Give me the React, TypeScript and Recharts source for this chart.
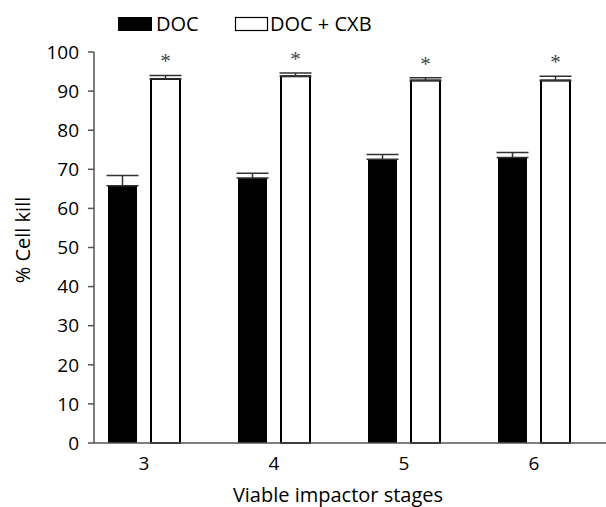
import { BarChart, Bar, XAxis, YAxis, ErrorBar, LabelList, Label } from "recharts"

// values
const stages = ["3", "4", "5", "6"]
const doc = [65.8, 67.8, 72.6, 73.0]
const docErr = [2.6, 1.2, 1.2, 1.3]
const docCxb = [93.1, 93.8, 92.7, 92.7]
const docCxbErr = [0.9, 0.8, 0.7, 1.1]
const yTicks = [0, 10, 20, 30, 40, 50, 60, 70, 80, 90, 100]

const data = stages.map((s, i) => ({
  stage: s,
  doc: doc[i],
  docErr: [0, docErr[i]],
  docCxb: docCxb[i],
  docCxbErr: [0, docCxbErr[i]],
}))

const FONT = "'Open Sans', 'Noto Sans', sans-serif"

// asterisk above the error bar of the DOC + CXB series
const Star = (props: any) => {
  const { x, y, width, height, value, index } = props
  const errTop = y - (docCxbErr[index] * height) / value
  return (
    <text
      x={x + width / 2}
      y={errTop - 7}
      textAnchor="middle"
      fontFamily="'Liberation Serif', 'DejaVu Serif', serif"
      fontSize={21}
      fill="#444"
    >
      *
    </text>
  )
}

// legend drawn on top of the chart so it does not push the plot down
const LegendBox = () => (
  <svg width={420} height={40} style={{ position: "absolute", left: 0, top: 0, fontFamily: FONT }}>
    <rect x={118} y={17} width={34} height={14} fill="#000" />
    <text x={156} y={31} fontSize={20} fill="#000">DOC</text>
    <rect x={235.5} y={17.5} width={32} height={13} fill="#fff" stroke="#000" strokeWidth={1.2} />
    <text x={270} y={31} fontSize={20} fill="#000">DOC + CXB</text>
  </svg>
)

export default function App() {
  return (
    <div style={{ position: "absolute", left: 0, top: 0, width: 606, height: 507, background: "#fff", fontFamily: FONT }}>
      <BarChart
        width={606}
        height={507}
        data={data}
        margin={{ top: 52, right: 0, bottom: 0, left: 0 }}
        barSize={29}
        barGap={14}
      >
        <XAxis
          dataKey="stage"
          height={64}
          padding={{ left: -15, right: 7 }}
          tickLine={false}
          tickMargin={8}
          axisLine={{ stroke: "#555", strokeWidth: 1.5 }}
          tick={{ fill: "#000", fontSize: 19, fontFamily: FONT }}
        >
          <Label
            content={() => (
              <text x={338} y={502} textAnchor="middle" fontSize={20} fontFamily={FONT} fill="#000">
                Viable impactor stages
              </text>
            )}
          />
        </XAxis>
        <YAxis
          width={94}
          domain={[0, 100]}
          ticks={yTicks}
          interval={0}
          tickSize={6}
          tickMargin={9}
          axisLine={{ stroke: "#555", strokeWidth: 1.5 }}
          tickLine={{ stroke: "#555", strokeWidth: 1.5 }}
          tick={{ fill: "#000", fontSize: 19, fontFamily: FONT }}
        >
          <Label
            content={() => {
              const cx = 22
              const cy = 240
              return (
                <text
                  x={cx}
                  y={cy}
                  transform={`rotate(-90, ${cx}, ${cy})`}
                  textAnchor="middle"
                  dominantBaseline="central"
                  fontSize={20}
                  fontFamily={FONT}
                  fill="#000"
                >
                  % Cell kill
                </text>
              )
            }}
          />
        </YAxis>
        <Bar dataKey="doc" name="DOC" fill="#000" isAnimationActive={false}>
          <ErrorBar dataKey="docErr" width={16} stroke="#333" strokeWidth={1.5} />
        </Bar>
        <Bar dataKey="docCxb" name="DOC + CXB" fill="#fff" stroke="#000" strokeWidth={2} isAnimationActive={false}>
          <ErrorBar dataKey="docCxbErr" width={16} stroke="#333" strokeWidth={1.5} />
          <LabelList dataKey="docCxb" content={<Star />} />
        </Bar>
      </BarChart>
      <LegendBox />
    </div>
  )
}
